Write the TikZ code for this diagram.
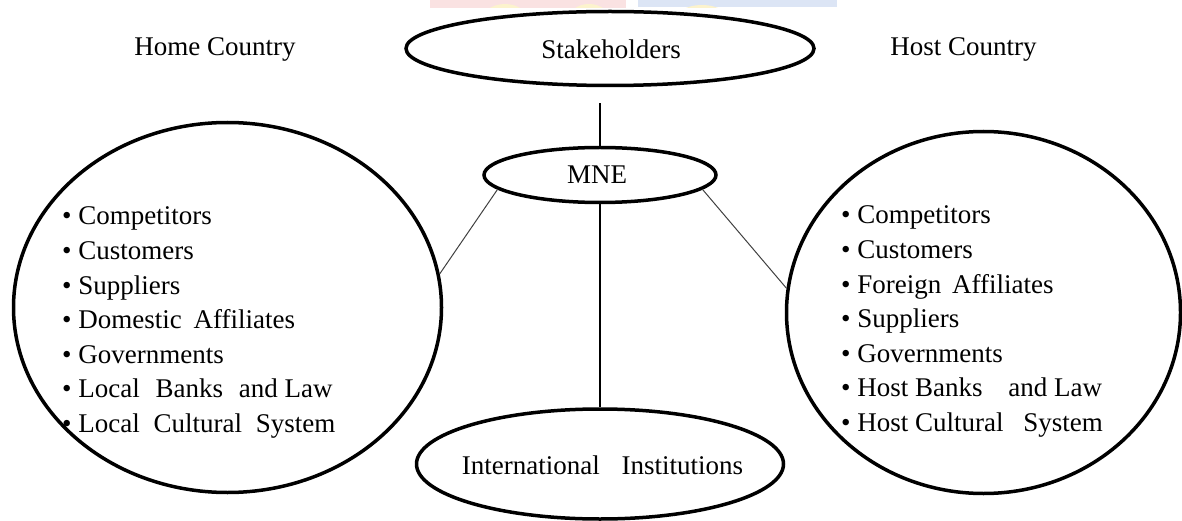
\documentclass[tikz,border=0pt]{standalone}
\usepackage{fontspec}
\setmainfont{Liberation Serif}
\usetikzlibrary{shapes.geometric}
\definecolor{wmpink}{RGB}{250,226,226}
\definecolor{wmblue}{RGB}{220,229,245}
\definecolor{wmyellow}{RGB}{252,243,205}
\begin{document}
\begin{tikzpicture}[x=1pt,y=-1pt,
  oval/.style={draw=black,line width=3.5pt,ellipse,inner sep=0pt},
  lbl/.style={font=\fontsize{27}{34.5}\selectfont,inner sep=0pt,anchor=base},
  item/.style={font=\fontsize{27}{34.5}\selectfont,inner sep=0pt,anchor=base west},
  thinlink/.style={draw=black!75,line width=1pt},
  vlink/.style={draw=black,line width=1.3pt}]
\useasboundingbox (0,0) rectangle (1182,521);
% faint watermark strip at the top
\begin{scope}
\clip (0,0) rectangle (1182,8);
\fill[wmpink] (430,0) rectangle (626,8);
\fill[wmblue] (638,0) rectangle (837,7);
\fill[wmyellow] (505,22) ellipse (24 and 18);
\fill[wmyellow] (589,22) ellipse (22 and 18);
\fill[wmyellow] (702,24) ellipse (30 and 19);
\end{scope}
% shapes
\node[oval,minimum width=408pt,minimum height=74pt] (stake) at (610,48.5) {};
\node[oval,minimum width=232pt,minimum height=55pt] (mne) at (600,175) {};
\node[oval,minimum width=367pt,minimum height=110pt] (intl) at (600,464) {};
\node[oval,minimum width=428pt,minimum height=370pt] (home) at (227.5,307.5) {};
\node[oval,minimum width=394pt,minimum height=362pt] (host) at (983.5,312.5) {};
% labels
\node[lbl] (homet) at (215,56) {Home Country};
\node[lbl] (hostt) at (963.5,56) {Host Country};
\node[lbl] (staket) at (611,59) {Stakeholders};
\node[lbl] (mnet) at (597,184) {MNE};
\node[lbl] (intlt) at (602.5,474) {International\hspace{15pt} Institutions};
% lists
\foreach \t [count=\i] in {Competitors,Customers,Suppliers,Domestic\hspace{5pt} Affiliates,Governments,Local\hspace{9pt} Banks\hspace{9pt} and Law,Local\hspace{7pt} Cultural\hspace{7pt} System}
  \node[item] (h\i) at (62,{225+34.5*(\i-1)}) {\textbullet\ \t};
\foreach \t [count=\i] in {Competitors,Customers,Foreign\hspace{4pt} Affiliates,Suppliers,Governments,Host Banks\hspace{19pt} and Law,Host Cultural\hspace{13pt} System}
  \node[item] (f\i) at (841,{224+34.5*(\i-1)}) {\textbullet\ \t};
% connectors
\draw[vlink,shorten <=16pt] (mne.north |- stake.south) -- (mne.north);
\draw[vlink] (mne.south) -- (intl.north);
\draw[thinlink] (mne.188) -- (home.9);
\draw[thinlink] (mne.-8) -- (host.173);
\end{tikzpicture}
\end{document}
